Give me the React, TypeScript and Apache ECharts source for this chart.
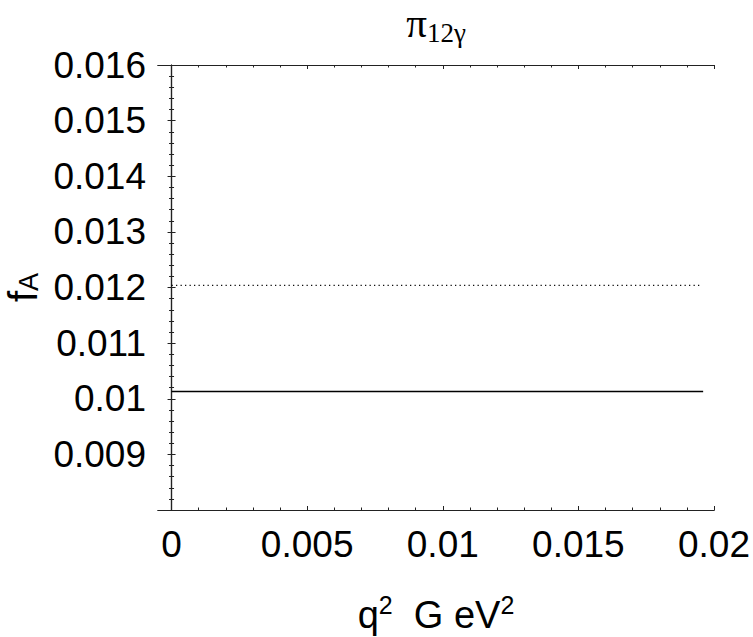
import React, { useEffect, useRef } from "react";
import * as echarts from "echarts";

const xMajorTicks = [0, 0.005, 0.01, 0.015, 0.02];
const xMinorTicks = [0.001, 0.002, 0.003, 0.004, 0.006, 0.007, 0.008, 0.009, 0.011, 0.012, 0.013, 0.014, 0.016, 0.017, 0.018, 0.019];
const yLabelValues = [0.009, 0.01, 0.011, 0.012, 0.013, 0.014, 0.015, 0.016];
const solidX = [0, 0.0196];
const solidY = [0.01013, 0.01013];
const dottedX = [0, 0.0195];
const dottedY = [0.01204, 0.01204];

const FONT = "'Liberation Sans', Arial, Helvetica, sans-serif";
const SERIF = "'Liberation Serif', 'Times New Roman', serif";

export default function App() {
  const ref = useRef<HTMLDivElement>(null);
  useEffect(() => {
    if (!ref.current) return;
    const chart = echarts.init(ref.current, null, { renderer: "svg" });
    const frameColor = "#222";
    const baseX = {
      type: "value",
      min: -0.0005,
      max: 0.02,
      splitLine: { show: false },
      axisLine: { show: true, lineStyle: { color: frameColor, width: 1.2 } },
    };
    const baseY = {
      type: "value",
      min: 0.008,
      max: 0.016,
      interval: 0.001,
      splitLine: { show: false },
      axisLine: { show: true, lineStyle: { color: frameColor, width: 1.2 } },
    };
    chart.setOption({
      animation: false,
      backgroundColor: "#fff",
      title: {
        text: "{p|π}{s|12γ}",
        left: 436,
        top: 0,
        padding: 0,
        textAlign: "center",
        textStyle: {
          fontFamily: SERIF,
          fontSize: 40,
          fontWeight: "normal",
          color: "#000",
          rich: {
            p: { fontFamily: SERIF, fontSize: 41, fontWeight: "normal", color: "#000", lineHeight: 46 },
            s: { fontFamily: SERIF, fontSize: 27, fontWeight: "normal", color: "#000", verticalAlign: "bottom", lineHeight: 30 },
          },
        },
      },
      grid: { left: 158, top: 65, right: 39, bottom: 127, containLabel: false, outerBoundsMode: "none" },
      xAxis: [
        {
          ...baseX,
          position: "bottom",
          name: "{q|q}{sup|2}{q|  G eV}{sup|2}",
          nameLocation: "middle",
          nameGap: 82,
          nameTextStyle: {
            rich: {
              q: { fontFamily: FONT, fontSize: 38, color: "#000", lineHeight: 46 },
              sup: { fontFamily: FONT, fontSize: 25, color: "#000", verticalAlign: "top", lineHeight: 46 },
            },
          },
          axisTick: { show: true, inside: true, length: 4, customValues: xMajorTicks, lineStyle: { color: frameColor } },
          axisLabel: {
            show: true,
            customValues: xMajorTicks,
            margin: 16,
            fontFamily: FONT,
            fontSize: 37,
            color: "#000",
            formatter: (v: number) => String(+v.toFixed(4)),
          },
        },
        {
          ...baseX,
          position: "bottom",
          axisTick: { show: true, inside: true, length: 2.5, customValues: xMinorTicks, lineStyle: { color: frameColor } },
          axisLabel: { show: false },
        },
        {
          ...baseX,
          position: "top",
          axisTick: { show: true, inside: true, length: 4, customValues: xMajorTicks, lineStyle: { color: frameColor } },
          axisLabel: { show: false },
        },
        {
          ...baseX,
          position: "top",
          axisTick: { show: true, inside: true, length: 2.5, customValues: xMinorTicks, lineStyle: { color: frameColor } },
          axisLabel: { show: false },
        },
      ],
      yAxis: [
        {
          ...baseY,
          position: "left",
          name: "{f|f}{a|A}",
          nameLocation: "middle",
          nameRotate: 90,
          nameGap: 110,
          nameTextStyle: {
            rich: {
              f: { fontFamily: FONT, fontSize: 40, color: "#000", lineHeight: 40 },
              a: { fontFamily: FONT, fontSize: 27, color: "#000", verticalAlign: "bottom", lineHeight: 28 },
            },
          },
          axisTick: { show: true, inside: true, length: 4, lineStyle: { color: frameColor } },
          minorTick: { show: true, splitNumber: 5, length: 2.5, lineStyle: { color: frameColor } },
          axisLabel: {
            show: true,
            customValues: yLabelValues,
            margin: 12,
            fontFamily: FONT,
            fontSize: 37,
            color: "#000",
            formatter: (v: number) => String(+v.toFixed(4)),
          },
        },
        {
          ...baseY,
          position: "right",
          axisTick: { show: true, inside: true, length: 4, lineStyle: { color: frameColor } },
          minorTick: { show: true, splitNumber: 5, length: 2.5, lineStyle: { color: frameColor } },
          axisLabel: { show: false },
        },
      ],
      series: [
        {
          type: "line",
          xAxisIndex: 0,
          yAxisIndex: 0,
          data: solidX.map((x, i) => [x, solidY[i]]),
          showSymbol: false,
          symbol: "none",
          lineStyle: { color: "#000", width: 1.5, type: "solid" },
        },
        {
          type: "line",
          xAxisIndex: 0,
          yAxisIndex: 0,
          data: dottedX.map((x, i) => [x, dottedY[i]]),
          showSymbol: false,
          symbol: "none",
          lineStyle: { color: "#000", width: 1.2, type: [1.2, 3.3] },
        },
      ],
    });
    return () => chart.dispose();
  }, []);
  return <div ref={ref} style={{ width: 753, height: 637, position: "absolute", left: 0, top: 0 }} />;
}
